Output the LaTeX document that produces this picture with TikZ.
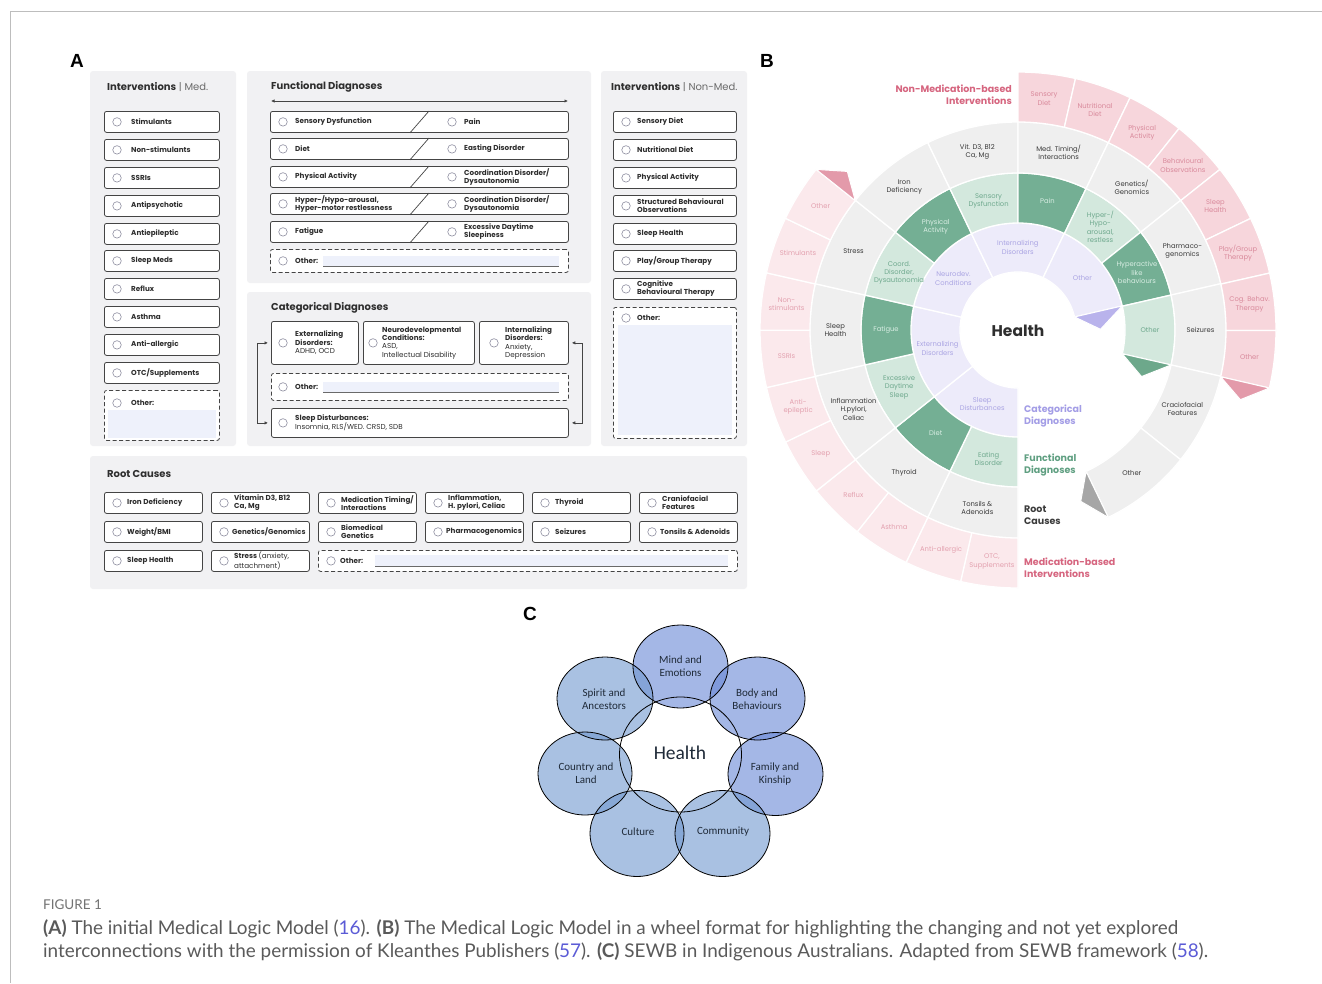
\documentclass[tikz,border=0pt]{standalone}
\usepackage{fontspec}
\usetikzlibrary{arrows.meta,shapes.geometric}
\newfontfamily\pop{Poppins}
\newfontfamily\carl{Carlito}
\newfontfamily\lato{Lato}
\newfontfamily\lib{Liberation Sans}
\definecolor{panelbg}{HTML}{F1F1F3}
\definecolor{boxline}{HTML}{444444}
\definecolor{radioline}{HTML}{8E8EA0}
\definecolor{txtdark}{HTML}{2E2E2E}
\definecolor{hdrgray}{HTML}{6A6A6A}
\definecolor{fieldbg}{HTML}{EEF1FB}
\definecolor{fieldline}{HTML}{6A6A6A}
\definecolor{framegray}{HTML}{BDBDBD}
\definecolor{pinkNM}{HTML}{F7D6DC}
\definecolor{pinkM}{HTML}{FBE9EC}
\definecolor{pinkNMt}{HTML}{D98A9C}
\definecolor{pinkMt}{HTML}{E3A1AF}
\definecolor{pinkTri}{HTML}{E39AAA}
\definecolor{grayR}{HTML}{EFEFEF}
\definecolor{grayRt}{HTML}{3A3A3A}
\definecolor{grayTri}{HTML}{A6A6A6}
\definecolor{greenD}{HTML}{74AF94}
\definecolor{greenDt}{HTML}{D8EDE3}
\definecolor{greenL}{HTML}{D3E8DD}
\definecolor{greenLt}{HTML}{6FA98E}
\definecolor{greenTri}{HTML}{6DA88B}
\definecolor{lav}{HTML}{EDEBFA}
\definecolor{lavt}{HTML}{ABA5E3}
\definecolor{lavTri}{HTML}{B9B3EC}
\definecolor{legCat}{HTML}{A39DE6}
\definecolor{legFun}{HTML}{5F9F81}
\definecolor{legRoot}{HTML}{3B3B3B}
\definecolor{legMed}{HTML}{D6657F}
\definecolor{cTop}{HTML}{6887D6}
\definecolor{cLow}{HTML}{7198CF}
\definecolor{ctext}{HTML}{1F2A38}
\definecolor{captxt}{HTML}{5A5A5A}
\definecolor{caplink}{HTML}{5B5BD6}

% generic box with radio and label
\newcommand\abox[7]{% name, x, ytop, w, h, text offset, label
 \node[ibox, anchor=north west, minimum width=#4pt, minimum height=#5pt] (#1) at (#2,#3) {};
 \node[radio] (#1-r) at ([xshift=13pt]#1.west) {};
 \node[itxt] (#1-t) at ([xshift=#6pt]#1.west) {#7};
}
% functional diagnoses split row
\newcommand\fdrow[5]{% name, ytop, h, left, right
 \node[ibox, anchor=north west, minimum width=298pt, minimum height=#3pt] (#1) at (270,#2) {};
 \draw[boxln] ([xshift=140pt]#1.south west) -- ([xshift=159pt]#1.north west);
 \node[radio] (#1-lr) at ([xshift=13pt]#1.west) {};
 \node[itxt] (#1-lt) at ([xshift=25pt]#1.west) {#4};
 \node[radio] (#1-rr) at ([xshift=182pt]#1.west) {};
 \node[itxt] (#1-rt) at ([xshift=194pt]#1.west) {#5};
}
% ring segment
\newcommand\rseg[9]{% base, step, index, r1, r2, fill, textcolor, label, name
 \pgfmathsetmacro\aA{#1-#2*(#3-1)}%
 \pgfmathsetmacro\aB{#1-#2*#3}%
 \pgfmathsetmacro\aM{(\aA+\aB)/2}%
 \pgfmathsetmacro\rM{(#4+#5)/2}%
 \path[fill=#6, draw=white, line width=1.3pt] (\aA:#4pt) arc[start angle=\aA, end angle=\aB, radius=#4pt] -- (\aB:#5pt) arc[start angle=\aB, end angle=\aA, radius=#5pt] -- cycle;
 \node[ringlbl, text=#7] (#9) at (\aM:\rM pt) {#8};
}
% ring end triangle
\newcommand\rtri[5]{% end angle, r1, r2, color, delta
 \pgfmathsetmacro\tA{#1-#5}%
 \pgfmathsetmacro\tR{(#2+#3)/2}%
 \path[fill=#4, draw=white, line width=1pt] (#1:#2pt) -- (#1:#3pt) -- (\tA:\tR pt) -- cycle;
}

\begin{document}
\begin{tikzpicture}[x=1pt, y=-1pt,
 panel/.style={fill=panelbg, rounded corners=3pt},
 ibox/.style={draw=boxline, fill=white, rounded corners=2.2pt, line width=0.8pt, inner sep=0pt},
 dbox/.style={ibox, dash pattern=on 4pt off 2.5pt},
 boxln/.style={draw=boxline, line width=0.7pt},
 radio/.style={circle, draw=radioline, fill=white, line width=0.6pt, minimum size=8.5pt, inner sep=0pt},
 itxt/.style={font=\pop\fontsize{7.2}{8.2}\selectfont\bfseries, text=txtdark, inner sep=0pt, anchor=west, align=left},
 hdr/.style={font=\pop\fontsize{10}{11}\selectfont, text=txtdark, inner sep=0pt, anchor=west},
 field/.style={fill=fieldbg, inner sep=0pt, anchor=west},
 conn/.style={draw=boxline, line width=0.7pt, {Latex[length=3.5pt,width=3.5pt]}-{Latex[length=3.5pt,width=3.5pt]}},
 plabel/.style={font=\lib\fontsize{19}{20}\selectfont\bfseries, inner sep=0pt},
 ringlbl/.style={font=\pop\fontsize{6.8}{8.3}\selectfont, align=center, inner sep=0pt},
 legend/.style={font=\pop\fontsize{9.5}{12}\selectfont\bfseries, align=left, inner sep=0pt, anchor=west},
 clbl/.style={font=\carl\fontsize{11}{13}\selectfont, text=ctext, align=center, inner sep=0pt},
 captxt/.style={font=\lato\fontsize{18.9}{22}\selectfont, text=captxt, inner sep=0pt, anchor=base west}
]
\useasboundingbox (0,0) rectangle (1322,983);
\fill[white] (0,0) rectangle (1322,983);
\draw[framegray, line width=0.8pt] (10,983) -- (10,11) -- (1322,11);

% ---------- panel letters
\node[plabel] (labA) at (77,61) {A};
\node[plabel] (labB) at (767,61) {B};
\node[plabel] (labC) at (530,614) {C};

% ---------- panel A backgrounds
\fill[panel] (90,71) rectangle (236,446);
\fill[panel] (247,71) rectangle (591,283);
\fill[panel] (247,292) rectangle (591,446);
\fill[panel] (601,71) rectangle (747,446);
\fill[panel] (90,456) rectangle (747,589);

% headers
\node[hdr] (hMed) at (107,87) {\textbf{Interventions} {\color{hdrgray}| Med.}};
\node[hdr] (hFun) at (271,87) {\textbf{Functional Diagnoses}};
\node[hdr] (hCat) at (271,308) {\textbf{Categorical Diagnoses}};
\node[hdr] (hNon) at (611,87) {\textbf{Interventions} {\color{hdrgray}| Non-Med.}};
\node[hdr] (hRoot) at (107,474) {\textbf{Root Causes}};

% ---------- Interventions Med.
\abox{m1}{104}{111}{115}{21}{27}{Stimulants}
\abox{m2}{104}{139}{115}{21}{27}{Non-stimulants}
\abox{m3}{104}{167}{115}{21}{27}{SSRIs}
\abox{m4}{104}{195}{115}{21}{27}{Antipsychotic}
\abox{m5}{104}{223}{115}{21}{27}{Antiepileptic}
\abox{m6}{104}{250}{115}{21}{27}{Sleep Meds}
\abox{m7}{104}{278}{115}{21}{27}{Reflux}
\abox{m8}{104}{306}{115}{21}{27}{Asthma}
\abox{m9}{104}{334}{115}{21}{27}{Anti-allergic}
\abox{m10}{104}{362}{115}{21}{27}{OTC/Supplements}
\node[dbox, anchor=north west, minimum width=115pt, minimum height=50pt] (mO) at (104,390) {};
\node[field, anchor=north west, minimum width=108pt, minimum height=28pt] (mOf) at (107.5,410) {};
\node[radio] (mO-r) at (117,403) {};
\node[itxt] (mO-t) at (131,403) {Other:};

% ---------- Interventions Non-Med.
\abox{n1}{613}{111}{123}{21}{24}{Sensory Diet}
\abox{n2}{613}{139}{123}{21}{24}{Nutritional Diet}
\abox{n3}{613}{167}{123}{21}{24}{Physical Activity}
\abox{n4}{613}{195}{123}{21}{24}{Structured Behavioural\\Observations}
\abox{n5}{613}{223}{123}{21}{24}{Sleep Health}
\abox{n6}{613}{250}{123}{21}{24}{Play/Group Therapy}
\abox{n7}{613}{278}{123}{21}{24}{Cognitive\\Behavioural Therapy}
\node[dbox, anchor=north west, minimum width=123pt, minimum height=131pt] (nO) at (613,307) {};
\node[field, anchor=north west, minimum width=114pt, minimum height=110pt] (nOf) at (618,325) {};
\node[radio] (nO-r) at (626,318) {};
\node[itxt] (nO-t) at (637,318) {Other:};

% ---------- Functional Diagnoses
\coordinate (fa1) at (271,101);
\coordinate (fa2) at (568,101);
\draw[conn] (fa1) -- (fa2);
\fdrow{fd1}{111}{21}{Sensory Dysfunction}{Pain}
\fdrow{fd2}{138}{21}{Diet}{Easting Disorder}
\fdrow{fd3}{166}{21}{Physical Activity}{Coordination Disorder/\\Dysautonomia}
\fdrow{fd4}{193}{21}{Hyper-/Hypo-arousal,\\Hyper-motor restlessness}{Coordination Disorder/\\Dysautonomia}
\fdrow{fd5}{221}{21}{Fatigue}{Excessive Daytime\\Sleepiness}
\node[dbox, anchor=north west, minimum width=298pt, minimum height=23pt] (fdO) at (270,249) {};
\node[radio] (fdO-r) at ([xshift=13pt]fdO.west) {};
\node[itxt] (fdO-t) at ([xshift=25pt]fdO.west) {Other:};
\node[field, minimum width=236pt, minimum height=10pt] (fdOf) at ([xshift=53pt]fdO.west) {};
\draw[fieldline, line width=0.6pt] (fdOf.south west) -- (fdOf.south east);

% ---------- Categorical Diagnoses
\node[ibox, anchor=north west, minimum width=87pt, minimum height=43pt] (ext) at (271,321) {};
\node[radio] (ext-r) at ([xshift=12pt]ext.west) {};
\node[itxt, font=\pop\fontsize{7.2}{8.4}\selectfont\bfseries] (ext-t) at ([xshift=24pt]ext.west) {Externalizing\\Disorders:\\{\mdseries ADHD, OCD}};
\node[ibox, anchor=north west, minimum width=111pt, minimum height=43pt] (neu) at (363,321) {};
\node[radio] (neu-r) at ([xshift=10pt]neu.west) {};
\node[itxt, font=\pop\fontsize{7.2}{8.4}\selectfont\bfseries] (neu-t) at ([xshift=19pt]neu.west) {Neurodevelopmental\\Conditions:\\{\mdseries ASD,}\\{\mdseries Intellectual Disability}};
\node[ibox, anchor=north west, minimum width=89pt, minimum height=43pt] (int) at (479,321) {};
\node[radio] (int-r) at ([xshift=15pt]int.west) {};
\node[itxt, font=\pop\fontsize{7.2}{8.4}\selectfont\bfseries] (int-t) at ([xshift=26pt]int.west) {Internalizing\\Disorders:\\{\mdseries Anxiety,}\\{\mdseries Depression}};
\node[dbox, anchor=north west, minimum width=297pt, minimum height=27pt] (cO) at (271,373) {};
\node[radio] (cO-r) at ([xshift=12pt]cO.west) {};
\node[itxt] (cO-t) at ([xshift=24pt]cO.west) {Other:};
\node[field, minimum width=236pt, minimum height=10pt] (cOf) at ([xshift=52pt]cO.west) {};
\draw[fieldline, line width=0.6pt] (cOf.south west) -- (cOf.south east);
\node[ibox, anchor=north west, minimum width=297pt, minimum height=29pt] (slp) at (271,408) {};
\node[radio] (slp-r) at ([xshift=12pt]slp.west) {};
\node[itxt, font=\pop\fontsize{7.2}{9}\selectfont\bfseries] (slp-t) at ([xshift=24pt]slp.west) {Sleep Disturbances:\\{\mdseries Insomnia, RLS/WED. CRSD, SDB}};
\draw[conn] ([xshift=-3pt]ext.west) -- ++(-11pt,0) |- ([xshift=-3pt]slp.west);
\draw[conn] ([xshift=3pt]int.east) -- ++(11pt,0) |- ([xshift=3pt]slp.east);

% ---------- Root Causes
\abox{r11}{104}{492}{98}{21}{23}{Iron Deficiency}
\abox{r12}{211}{492}{98}{21}{23}{Vitamin D3, B12\\Ca, Mg}
\abox{r13}{318}{492}{98}{21}{23}{Medication Timing/\\Interactions}
\abox{r14}{425}{492}{98}{21}{23}{Inflammation,\\H. pylori, Celiac}
\abox{r15}{532}{492}{98}{21}{23}{Thyroid}
\abox{r16}{639}{492}{98}{21}{23}{Craniofacial\\Features}
\abox{r21}{104}{521}{98}{21}{23}{Weight/BMI}
\abox{r22}{211}{521}{98}{21}{21}{Genetics/Genomics}
\abox{r23}{318}{521}{98}{21}{23}{Biomedical\\Genetics}
\abox{r24}{425}{521}{98}{21}{21}{Pharmacogenomics}
\abox{r25}{532}{521}{98}{21}{23}{Seizures}
\abox{r26}{639}{521}{98}{21}{21}{Tonsils \& Adenoids}
\abox{r31}{104}{550}{98}{21}{23}{Sleep Health}
\abox{r32}{211}{550}{98}{21}{23}{Stress {\mdseries (anxiety,}\\{\mdseries attachment)}}
\node[dbox, anchor=north west, minimum width=419pt, minimum height=21pt] (rO) at (318,550) {};
\node[radio] (rO-r) at ([xshift=13pt]rO.west) {};
\node[itxt] (rO-t) at ([xshift=22pt]rO.west) {Other:};
\node[field, minimum width=353pt, minimum height=11pt] (rOf) at ([xshift=57pt]rO.west) {};
\draw[fieldline, line width=0.6pt] (rOf.south west) -- (rOf.south east);

% ---------- Panel B: wheel
\begin{scope}[shift={(1018,330)}, x=1pt, y=1pt]
% categorical (lavender)
\rseg{270}{51.4}{1}{58}{107}{lav}{lavt}{Sleep\\Disturbances}{c1}
\rseg{270}{51.4}{2}{58}{107}{lav}{lavt}{Externalizing\\Disorders}{c2}
\rseg{270}{51.4}{3}{58}{107}{lav}{lavt}{Neurodev.\\Conditions}{c3}
\rseg{270}{51.4}{4}{58}{107}{lav}{lavt}{Internalizing\\Disorders}{c4}
\rseg{270}{51.4}{5}{58}{107}{lav}{lavt}{Other}{c5}
\rtri{13}{58}{107}{lavTri}{12.5}
% functional (green)
\rseg{270}{25.714}{1}{107}{157}{greenL}{greenLt}{Eating\\Disorder}{f1}
\rseg{270}{25.714}{2}{107}{157}{greenD}{greenDt}{Diet}{f2}
\rseg{270}{25.714}{3}{107}{157}{greenL}{greenLt}{Excessive\\Daytime\\Sleep}{f3}
\rseg{270}{25.714}{4}{107}{157}{greenD}{greenDt}{Fatigue}{f4}
\rseg{270}{25.714}{5}{107}{157}{greenL}{greenLt}{Coord.\\Disorder,\\Dysautonomia}{f5}
\rseg{270}{25.714}{6}{107}{157}{greenD}{greenDt}{Physical\\Activity}{f6}
\rseg{270}{25.714}{7}{107}{157}{greenL}{greenLt}{Sensory\\Dysfunction}{f7}
\rseg{270}{25.714}{8}{107}{157}{greenD}{greenDt}{Pain}{f8}
\rseg{270}{25.714}{9}{107}{157}{greenL}{greenLt}{Hyper-/\\Hypo-\\arousal,\\restless}{f9}
\rseg{270}{25.714}{10}{107}{157}{greenD}{greenDt}{Hyperactive\\like\\behaviours}{f10}
\rseg{270}{25.714}{11}{107}{157}{greenL}{greenLt}{Other}{f11}
\rtri{-12.86}{107}{157}{greenTri}{7.8}
% root causes (gray)
\rseg{270}{25.714}{1}{157}{208}{grayR}{grayRt}{Tonsils \&\\Adenoids}{g1}
\rseg{270}{25.714}{2}{157}{208}{grayR}{grayRt}{Thyroid}{g2}
\rseg{270}{25.714}{3}{157}{208}{grayR}{grayRt}{Inflammation\\H.pylori,\\Celiac}{g3}
\rseg{270}{25.714}{4}{157}{208}{grayR}{grayRt}{Sleep\\Health}{g4}
\rseg{270}{25.714}{5}{157}{208}{grayR}{grayRt}{Stress}{g5}
\rseg{270}{25.714}{6}{157}{208}{grayR}{grayRt}{Iron\\Deficiency}{g6}
\rseg{270}{25.714}{7}{157}{208}{grayR}{grayRt}{Vit. D3, B12\\Ca, Mg}{g7}
\rseg{270}{25.714}{8}{157}{208}{grayR}{grayRt}{Med. Timing/\\Interactions}{g8}
\rseg{270}{25.714}{9}{157}{208}{grayR}{grayRt}{Genetics/\\Genomics}{g9}
\rseg{270}{25.714}{10}{157}{208}{grayR}{grayRt}{Pharmaco-\\genomics}{g10}
\rseg{270}{25.714}{11}{157}{208}{grayR}{grayRt}{Seizures}{g11}
\rseg{270}{25.714}{12}{157}{208}{grayR}{grayRt}{Craciofacial\\Features}{g12}
\rseg{270}{25.714}{13}{157}{208}{grayR}{grayRt}{Other}{g13}
\rtri{-64.29}{157}{208}{grayTri}{5.6}
% medication-based (pink, light)
\rseg{270}{12.85}{1}{208}{258}{pinkM}{pinkMt}{OTC,\\Supplements}{p1}
\rseg{270}{12.85}{2}{208}{258}{pinkM}{pinkMt}{Anti-allergic}{p2}
\rseg{270}{12.85}{3}{208}{258}{pinkM}{pinkMt}{Asthma}{p3}
\rseg{270}{12.85}{4}{208}{258}{pinkM}{pinkMt}{Reflux}{p4}
\rseg{270}{12.85}{5}{208}{258}{pinkM}{pinkMt}{Sleep}{p5}
\rseg{270}{12.85}{6}{208}{258}{pinkM}{pinkMt}{Anti-\\epileptic}{p6}
\rseg{270}{12.85}{7}{208}{258}{pinkM}{pinkMt}{SSRIs}{p7}
\rseg{270}{12.85}{8}{208}{258}{pinkM}{pinkMt}{Non-\\stimulants}{p8}
\rseg{270}{12.85}{9}{208}{258}{pinkM}{pinkMt}{Stimulants}{p9}
\rseg{270}{12.85}{10}{208}{258}{pinkM}{pinkMt}{Other}{p10}
\rtri{141.5}{208}{258}{pinkTri}{4.4}
% non-medication-based (pink)
\rseg{90}{12.875}{1}{208}{258}{pinkNM}{pinkNMt}{Sensory\\Diet}{q1}
\rseg{90}{12.875}{2}{208}{258}{pinkNM}{pinkNMt}{Nutritional\\Diet}{q2}
\rseg{90}{12.875}{3}{208}{258}{pinkNM}{pinkNMt}{Physical\\Activity}{q3}
\rseg{90}{12.875}{4}{208}{258}{pinkNM}{pinkNMt}{Behavioural\\Observations}{q4}
\rseg{90}{12.875}{5}{208}{258}{pinkNM}{pinkNMt}{Sleep\\Health}{q5}
\rseg{90}{12.875}{6}{208}{258}{pinkNM}{pinkNMt}{Play/Group\\Therapy}{q6}
\rseg{90}{12.875}{7}{208}{258}{pinkNM}{pinkNMt}{Cog. Behav.\\Therapy}{q7}
\rseg{90}{12.875}{8}{208}{258}{pinkNM}{pinkNMt}{Other}{q8}
\rtri{-13}{208}{258}{pinkTri}{4.4}
\end{scope}
\node[font=\pop\fontsize{15.5}{17}\selectfont\bfseries, text=txtdark, inner sep=0pt] (bHealth) at (1018,331) {Health};
\node[legend, text=legMed, anchor=east, align=right] (lgNM) at (1012,95) {Non-Medication-based\\Interventions};
\node[legend, text=legCat] (lgCat) at (1024,416) {Categorical\\Diagnoses};
\node[legend, text=legFun] (lgFun) at (1024,465) {Functional\\Diagnoses};
\node[legend, text=legRoot] (lgRoot) at (1024,515) {Root\\Causes};
\node[legend, text=legMed] (lgMed) at (1024,568) {Medication-based\\Interventions};

% ---------- Panel C
\fill[cTop, fill opacity=0.6] (680.5,666.5) ellipse [x radius=47.5pt, y radius=41.5pt];
\fill[cLow, fill opacity=0.6] (605,698.5) ellipse [x radius=48pt, y radius=41.5pt];
\fill[cTop, fill opacity=0.6] (757.5,698.5) ellipse [x radius=47.5pt, y radius=41.5pt];
\fill[cLow, fill opacity=0.6] (585,773.5) ellipse [x radius=47pt, y radius=41.5pt];
\fill[cTop, fill opacity=0.6] (775.5,774) ellipse [x radius=47.5pt, y radius=41.5pt];
\fill[cLow, fill opacity=0.6] (637,833.5) ellipse [x radius=47pt, y radius=43pt];
\fill[cLow, fill opacity=0.6] (722.5,833.5) ellipse [x radius=47.5pt, y radius=43pt];
\begin{scope}[draw=black, line width=0.8pt]
\draw (680.5,666.5) ellipse [x radius=47.5pt, y radius=41.5pt];
\draw (605,698.5) ellipse [x radius=48pt, y radius=41.5pt];
\draw (757.5,698.5) ellipse [x radius=47.5pt, y radius=41.5pt];
\draw (585,773.5) ellipse [x radius=47pt, y radius=41.5pt];
\draw (775.5,774) ellipse [x radius=47.5pt, y radius=41.5pt];
\draw (637,833.5) ellipse [x radius=47pt, y radius=43pt];
\draw (722.5,833.5) ellipse [x radius=47.5pt, y radius=43pt];
\draw (680.5,754.5) ellipse [x radius=61pt, y radius=57.5pt];
\end{scope}
\node[clbl] (cMind) at (680.5,666) {Mind and\\Emotions};
\node[clbl] (cSpirit) at (604,699) {Spirit and\\Ancestors};
\node[clbl] (cBody) at (757,699) {Body and\\Behaviours};
\node[clbl] (cCountry) at (586,773) {Country and\\Land};
\node[clbl] (cFamily) at (775,774) {Family and\\Kinship};
\node[clbl] (cCulture) at (638,832) {Culture};
\node[clbl] (cComm) at (723,832) {Community};
\node[font=\carl\fontsize{19.5}{21}\selectfont, text=ctext, inner sep=0pt] (cHealth) at (680,753) {Health};

% ---------- caption
\node[font=\lato\fontsize{13.5}{15}\selectfont, text=captxt!85, inner sep=0pt, anchor=base west] (figno) at (43,909) {FIGURE 1};
\node[captxt] (cap1) at (43,934) {\textbf{(A)} The initial Medical Logic Model ({\color{caplink}16}). \textbf{(B)} The Medical Logic Model in a wheel format for highlighting the changing and not yet explored};
\node[captxt] (cap2) at (43,957) {interconnections with the permission of Kleanthes Publishers ({\color{caplink}57}). \textbf{(C)} SEWB in Indigenous Australians. Adapted from SEWB framework ({\color{caplink}58}).};
\end{tikzpicture}
\end{document}
